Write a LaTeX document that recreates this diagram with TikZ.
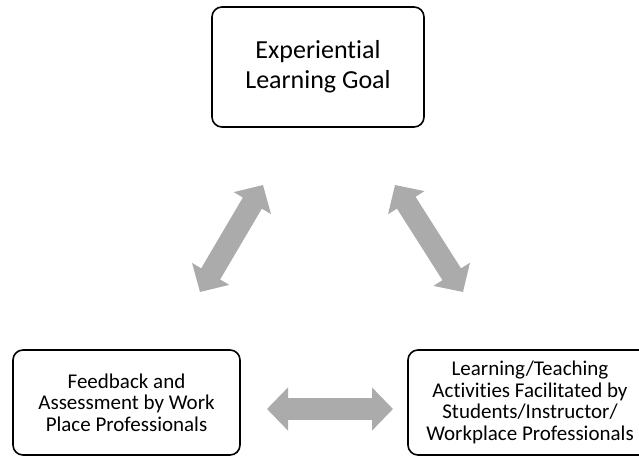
\documentclass[tikz,border=0pt]{standalone}
\usepackage{fontspec}
\setmainfont[Ligatures=NoCommon]{Carlito}
\usetikzlibrary{arrows.meta,positioning}
\begin{document}
\begin{tikzpicture}[x=1pt, y=-1pt, line join=round,
    box/.style={draw, line width=1.6pt, rounded corners=10pt, align=center, inner sep=0pt},
    link/.style={draw=black!33, line width=22pt,
      {Triangle[width=42pt,length=21pt]}-{Triangle[width=42pt,length=21pt]}}]
    \useasboundingbox (0,0) rectangle (639,470);
    \clip (0,0) rectangle (639,470);
    \def\big{\fontsize{26}{30}\selectfont}
    \def\small{\fontsize{21}{21.5}\selectfont}
    % boxes
    \node[box, minimum width=212pt, minimum height=120pt, font=\big] (goal) at (318,67)
      {Experiential\\Learning Goal};
    \node[box, minimum width=227pt, minimum height=105pt, font=\small] (feedback) at (126.5,402.5)
      {Feedback and\\Assessment by Work\\Place Professionals};
    \node[box, minimum width=244pt, minimum height=105pt, font=\small] (activities) at (530,402.5)
      {Learning/Teaching\\Activities Facilitated by\\Students/Instructor/\\Workplace Professionals};
    % arrow ends
    \coordinate (goal-l) at (263,185);  \coordinate (feedback-t) at (200,292);
    \coordinate (goal-r) at (395,185);  \coordinate (activities-t) at (463,292);
    \coordinate (feedback-r) at (267,409); \coordinate (activities-l) at (393,409);
    \draw[link] (goal-l) -- (feedback-t);
    \draw[link] (goal-r) -- (activities-t);
    \draw[link] (feedback-r) -- (activities-l);
\end{tikzpicture}
\end{document}
